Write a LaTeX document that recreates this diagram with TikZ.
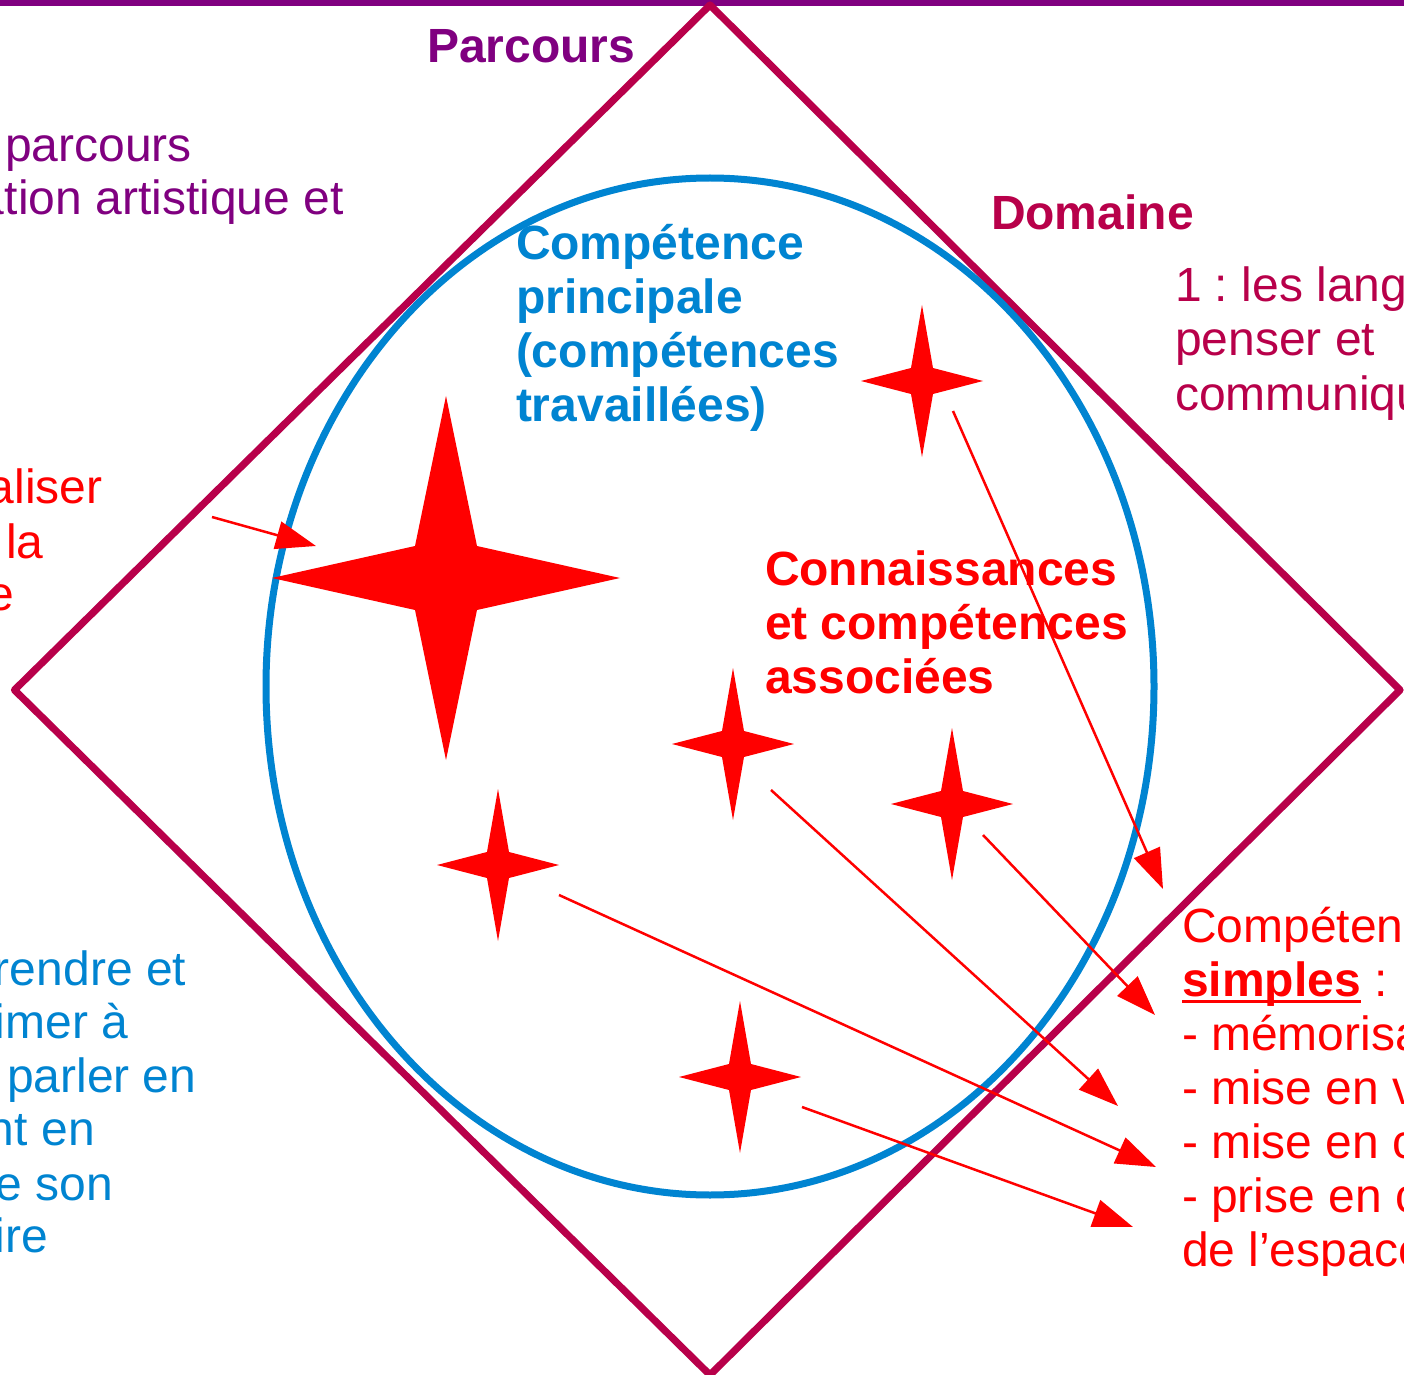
\documentclass[tikz,border=0pt]{standalone}
\usepackage{fontspec}
\setmainfont{Liberation Sans}
\usetikzlibrary{arrows.meta}
\definecolor{purp}{RGB}{128,0,128}
\definecolor{crim}{RGB}{184,0,74}
\definecolor{blu}{RGB}{0,132,209}
\definecolor{rd}{RGB}{255,0,0}
\frenchspacing
\newcommand{\fourstar}[6]{%
  \fill[rd, shift={(#1,#2)}] (0,-#3) -- (#5,-#6) -- (#4,0) -- (#5,#6) -- (0,#3) -- (-#5,#6) -- (-#4,0) -- (-#5,-#6) -- cycle;}
\begin{document}
\begin{tikzpicture}[x=0.5pt,y=-0.5pt,
  txt/.style={anchor=base west, inner sep=0pt, outer sep=0pt, font=\fontsize{24pt}{27pt}\selectfont},
  btxt/.style={anchor=base west, inner sep=0pt, outer sep=0pt, font=\fontsize{24pt}{27pt}\selectfont\bfseries},
  arr/.style={draw=rd, line width=1.25pt, -{Triangle[length=20pt,width=14pt]}}]
\useasboundingbox (0,0) rectangle (1404,1375);
\clip (0,0) rectangle (1404,1375);
\fill[white] (0,0) rectangle (1404,1375);
% top line
\draw[purp, line width=3pt] (0,3) -- (1404,3);
% diamond
\draw[crim, line width=3.6pt, line join=round] (710,5) -- (1400,690) -- (710,1375) -- (14.5,690) -- cycle;
% ellipse
\draw[blu, line width=3.5pt] (710,686.5) ellipse [x radius=444, y radius=508.5];
% stars
\fourstar{446}{578}{182}{174}{31}{32}
\fourstar{922}{381}{76}{61}{11}{13}
\fourstar{733}{744}{76}{61}{11}{13}
\fourstar{952}{804}{76}{61}{11}{13}
\fourstar{498}{865}{76}{61}{11}{13}
\fourstar{740}{1077}{76}{61}{11}{13}
% arrows
\coordinate (a1s) at (212,517); \coordinate (a1e) at (316,546);
\coordinate (a2s) at (953,411); \coordinate (a2e) at (1163,889);
\coordinate (a3s) at (771,790); \coordinate (a3e) at (1118,1106);
\coordinate (a4s) at (983,835); \coordinate (a4e) at (1155,1015);
\coordinate (a5s) at (559,895); \coordinate (a5e) at (1156,1167);
\coordinate (a6s) at (802,1107); \coordinate (a6e) at (1133,1227);
\draw[arr] (a1s) -- (a1e);
\draw[arr] (a2s) -- (a2e);
\draw[arr] (a3s) -- (a3e);
\draw[arr] (a4s) -- (a4e);
\draw[arr] (a5s) -- (a5e);
\draw[arr] (a6s) -- (a6e);
% texts
\node[btxt, text=purp] (parc) at (427,63) {Parcours};
\node[txt, text=purp] (pa1) at (5,162) {parcours};
\node[txt, text=purp] (pa2) at (-22,215) {ation artistique et};
\node[txt, text=rd] (r1) at (-12,503) {aliser};
\node[txt, text=rd] (r2) at (6,558) {la};
\node[txt, text=rd] (r3) at (-12,610) {e};
\node[txt, text=blu] (b1) at (-6,985) {rendre et};
\node[txt, text=blu] (b2) at (-5,1038) {imer à};
\node[txt, text=blu] (b3) at (7,1092) {parler en};
\node[txt, text=blu] (b4) at (-12,1145) {nt en};
\node[txt, text=blu] (b5) at (-4,1200) {e son};
\node[txt, text=blu] (b6) at (-5,1252) {ire};
\node[btxt, text=crim] (dom) at (991,230) {Domaine};
\node[txt, text=crim] (d1) at (1175,302) {1 : les lang};
\node[txt, text=crim] (d2) at (1175,356) {penser et};
\node[txt, text=crim] (d3) at (1175,410) {communiqu};
\node[btxt, text=blu] (c1) at (516,260) {Compétence};
\node[btxt, text=blu] (c2) at (516,314) {principale};
\node[btxt, text=blu] (c3) at (516,368) {(compétences};
\node[btxt, text=blu] (c4) at (516,422) {travaillées)};
\node[btxt, text=rd] (k1) at (765,585) {Connaissances};
\node[btxt, text=rd] (k2) at (765,639) {et compétences};
\node[btxt, text=rd] (k3) at (765,693) {associées};
\node[txt, text=rd] (s1) at (1182,942) {Compéten};
\node[btxt, text=rd] (s2) at (1182,996) {simples};
\node[txt, text=rd, anchor=base west] (s2b) at (s2.base east) {~:};
\draw[rd, line width=1.5pt] ([yshift=-2.5pt]s2.base west) -- ([yshift=-2.5pt]s2.base east);
\node[txt, text=rd] (s3) at (1182,1050) {- mémorisa};
\node[txt, text=rd] (s4) at (1182,1104) {- mise en v};
\node[txt, text=rd] (s5) at (1182,1158) {- mise en c};
\node[txt, text=rd] (s6) at (1182,1212) {- prise en c};
\node[txt, text=rd] (s7) at (1182,1266) {de l’espace};
\end{tikzpicture}
\end{document}
